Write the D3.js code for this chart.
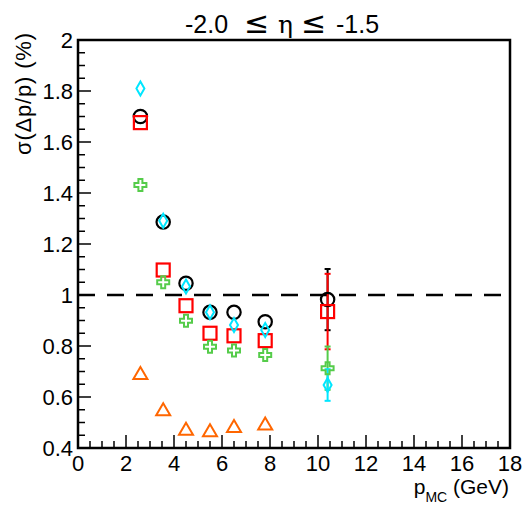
<!DOCTYPE html>
<html><head><meta charset="utf-8">
<script src="https://cdn.jsdelivr.net/npm/d3@7"></script>
<style>body{margin:0;background:#fff}svg{display:block}text{font-family:"Liberation Sans",Arial,sans-serif}</style>
</head><body>
<script>
const xs = [2.6, 3.55, 4.5, 5.5, 6.5, 7.8, 10.4];
const circleVals = [1.70, 1.286, 1.046, 0.932, 0.932, 0.895, 0.982];
const circleErr = [0, 0, 0, 0, 0, 0, 0.12];
const squareVals = [1.676, 1.098, 0.958, 0.85, 0.84, 0.821, 0.935];
const squareErr = [0, 0, 0, 0, 0, 0, 0.148];
const crossVals = [1.431, 1.05, 0.899, 0.797, 0.782, 0.765, 0.713];
const crossErr = [0, 0, 0, 0, 0, 0, 0.085];
const diamondVals = [1.81, 1.291, 1.033, 0.932, 0.882, 0.863, 0.647];
const diamondErr = [0, 0, 0, 0, 0, 0, 0.062];
const triangleVals = [0.69, 0.548, 0.472, 0.466, 0.482, 0.492];
const xTicks = [0, 2, 4, 6, 8, 10, 12, 14, 16, 18];
const yTicks = [0.4, 0.6, 0.8, 1, 1.2, 1.4, 1.6, 1.8, 2];

const W = 526, H = 507;
const svg = d3.select("body").append("svg").attr("width", W).attr("height", H);
const x = d3.scaleLinear().domain([0, 18]).range([78, 510]);
const y = d3.scaleLinear().domain([0.4, 2]).range([448, 40]);

// frame
svg.append("rect").attr("x", 78).attr("y", 40).attr("width", 432).attr("height", 408)
  .attr("fill", "none").attr("stroke", "#000").attr("stroke-width", 2.5);

// x axis ticks (inward)
const xMinor = d3.range(0, 18.01, 0.5);
svg.append("g").selectAll("line").data(xMinor).join("line")
  .attr("x1", d => x(d)).attr("x2", d => x(d))
  .attr("y1", 448).attr("y2", d => Math.abs(d % 2) < 1e-6 ? 448 - 13 : 448 - 7)
  .attr("stroke", "#000").attr("stroke-width", 1.5);
svg.append("g").selectAll("text").data(xTicks).join("text")
  .attr("x", d => x(d)).attr("y", 471).attr("text-anchor", "middle")
  .attr("font-size", 22).text(d => d);

const yMinor = d3.range(0.4, 2.001, 0.05);
svg.append("g").selectAll("line").data(yMinor).join("line")
  .attr("x1", 78).attr("x2", d => (Math.round(d * 100) % 20 === 0) ? 78 + 13 : 78 + 7)
  .attr("y1", d => y(d)).attr("y2", d => y(d))
  .attr("stroke", "#000").attr("stroke-width", 1.5);
svg.append("g").selectAll("text").data(yTicks).join("text")
  .attr("x", 73).attr("y", d => y(d) + 8).attr("text-anchor", "end")
  .attr("font-size", 22).text(d => d);

// titles
const tt = svg.append("text").attr("y", 33).attr("font-size", 25);
[["-2.0", 185, null, 25], ["\u2264", 244, "DejaVu Sans", 30], ["\u03B7", 278, "DejaVu Serif", 25], ["\u2264", 301, "DejaVu Sans", 30], ["-1.5", 336, null, 25]].forEach(([s, px, f, fs]) => {
  const t = tt.append("tspan").attr("x", px).attr("font-size", fs).text(s);
  if (f) t.attr("font-family", f);
});
svg.append("text").attr("transform", "translate(31,33) rotate(-90)").attr("text-anchor", "end")
  .attr("font-size", 22).attr("textLength", 122).attr("lengthAdjust", "spacing")
  .text("\u03C3(\u0394p/p) (%)");
const xl = svg.append("text").attr("x", 509).attr("y", 494).attr("text-anchor", "end").attr("font-size", 21);
xl.append("tspan").text("p");
xl.append("tspan").attr("font-size", 14).attr("dy", 8).text("MC");
xl.append("tspan").attr("dy", -8).text(" (GeV)");

// dashed line at 1
svg.append("line").attr("x1", x(0)).attr("x2", x(18)).attr("y1", y(1)).attr("y2", y(1))
  .attr("stroke", "#000").attr("stroke-width", 2.5).attr("stroke-dasharray", "17,12");

function errBars(vals, errs, color) {
  const g = svg.append("g").attr("stroke", color).attr("stroke-width", 2);
  xs.forEach((xv, i) => {
    if (!errs[i]) return;
    g.append("line").attr("x1", x(xv)).attr("x2", x(xv)).attr("y1", y(vals[i] - errs[i])).attr("y2", y(vals[i] + errs[i]));
    [vals[i] - errs[i], vals[i] + errs[i]].forEach(v =>
      g.append("line").attr("x1", x(xv) - 3).attr("x2", x(xv) + 3).attr("y1", y(v)).attr("y2", y(v)));
  });
}
errBars(circleVals, circleErr, "#000");
errBars(squareVals, squareErr, "#ff0000");
errBars(crossVals, crossErr, "#55cc4a");
errBars(diamondVals, diamondErr, "#00e6ff");

// markers
const sym = (type, size) => d3.symbol().type(type).size(size)();
svg.append("g").selectAll("path").data(xs.map((d, i) => [d, circleVals[i]])).join("path")
  .attr("transform", d => `translate(${x(d[0])},${y(d[1])})`)
  .attr("d", sym(d3.symbolCircle, 140)).attr("fill", "none").attr("stroke", "#000").attr("stroke-width", 2.2);
svg.append("g").selectAll("rect").data(xs.map((d, i) => [d, squareVals[i]])).join("rect")
  .attr("x", d => x(d[0]) - 6.5).attr("y", d => y(d[1]) - 6.5).attr("width", 13).attr("height", 13)
  .attr("fill", "none").attr("stroke", "#ff0000").attr("stroke-width", 2.2);
const crossPath = "M-2,-6H2V-2H6V2H2V6H-2V2H-6V-2H-2Z";
svg.append("g").selectAll("path").data(xs.map((d, i) => [d, crossVals[i]])).join("path")
  .attr("transform", d => `translate(${x(d[0])},${y(d[1])})`)
  .attr("d", crossPath).attr("fill", "none").attr("stroke", "#55cc4a").attr("stroke-width", 2);
const diamondPath = "M0,-7L4,0L0,7L-4,0Z";
svg.append("g").selectAll("path").data(xs.map((d, i) => [d, diamondVals[i]])).join("path")
  .attr("transform", d => `translate(${x(d[0])},${y(d[1])})`)
  .attr("d", diamondPath).attr("fill", "none").attr("stroke", "#00e6ff").attr("stroke-width", 2);
const triPath = "M0,-7L7,5L-7,5Z";
svg.append("g").selectAll("path").data(triangleVals.map((v, i) => [xs[i], v])).join("path")
  .attr("transform", d => `translate(${x(d[0])},${y(d[1])})`)
  .attr("d", triPath).attr("fill", "none").attr("stroke", "#ff6600").attr("stroke-width", 2);
</script>
</body></html>
